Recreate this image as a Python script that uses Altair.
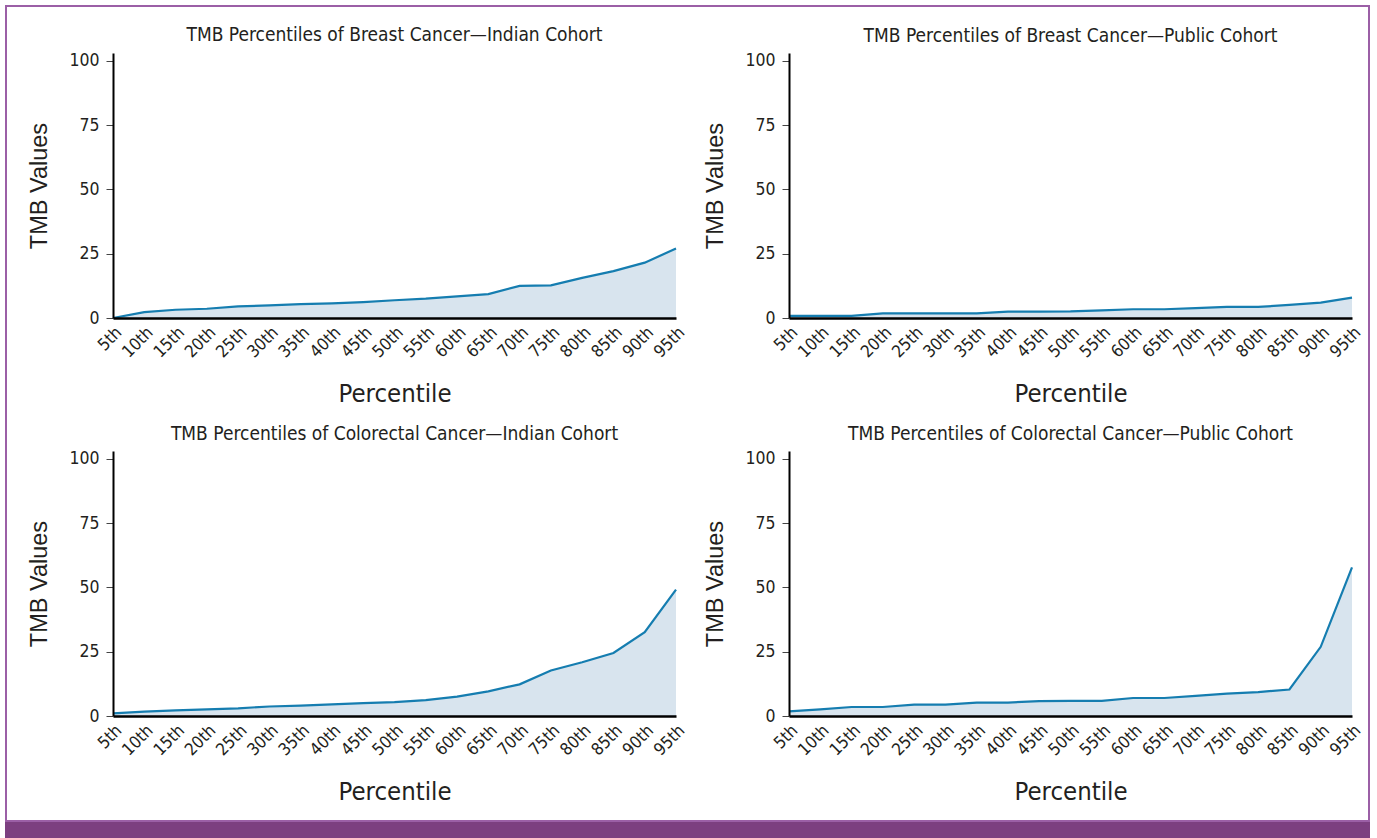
import altair as alt
import pandas as pd

# Percentile categories shared by all four panels
percentiles = ["5th", "10th", "15th", "20th", "25th", "30th", "35th", "40th", "45th", "50th",
               "55th", "60th", "65th", "70th", "75th", "80th", "85th", "90th", "95th"]

# TMB values at each percentile
breast_indian = [0.0, 2.3, 3.2, 3.6, 4.5, 4.9, 5.4, 5.7, 6.2, 6.9,
                 7.5, 8.4, 9.3, 12.5, 12.7, 15.6, 18.2, 21.5, 27.0]
breast_public = [0.8, 0.8, 0.8, 1.8, 1.8, 1.8, 1.8, 2.5, 2.5, 2.6,
                 3.0, 3.4, 3.4, 3.8, 4.3, 4.3, 5.1, 6.0, 7.9]
crc_indian = [1.0, 1.7, 2.2, 2.6, 3.0, 3.7, 4.0, 4.5, 5.0, 5.4,
              6.2, 7.5, 9.6, 12.3, 17.7, 20.9, 24.5, 32.6, 49.1]
crc_public = [1.8, 2.6, 3.5, 3.5, 4.4, 4.4, 5.2, 5.2, 5.8, 5.9,
              5.9, 7.0, 7.0, 7.8, 8.7, 9.3, 10.3, 26.9, 57.8]

panel_titles = [
    "TMB Percentiles of Breast Cancer\u2014Indian Cohort",
    "TMB Percentiles of Breast Cancer\u2014Public Cohort",
    "TMB Percentiles of Colorectal Cancer\u2014Indian Cohort",
    "TMB Percentiles of Colorectal Cancer\u2014Public Cohort",
]
y_ticks = [0, 25, 50, 75, 100]

NARROW = "Liberation Sans Narrow, DejaVu Sans Condensed, Roboto, sans-serif"
REGULAR = "Liberation Sans, Arial, sans-serif"
LINE = "#157db0"
FILL = "#d8e4ee"
INK = "#231f20"
FRAME = "#9b5fa6"
BAND = "#7c3f80"

PW, PH = 563, 265  # plot area of each panel
OX, OY = 113, 53   # where the first plot area sits on the page
PAGE_W, PAGE_H = 1377, 838


def panel(values, title, title_offset):
    df = pd.DataFrame({"Percentile": percentiles, "TMB": values})
    x = alt.X(
        "Percentile:O",
        sort=percentiles,
        scale=alt.Scale(type="point", padding=0),
        axis=alt.Axis(
            ticks=False,
            domainColor="black",
            domainWidth=2.5,
            labelAngle=315,
            labelAlign="right",
            labelBaseline="top",
            labelPadding=6,
            labelFont=NARROW,
            labelFontSize=17,
            labelColor=INK,
            title="Percentile",
            titleFont=NARROW,
            titleFontSize=25.5,
            titleFontWeight="normal",
            titleColor=INK,
            titleBaseline="alphabetic",
            titleY=83,
            zindex=1,
        ),
    )
    y = alt.Y(
        "TMB:Q",
        scale=alt.Scale(domain=[0, 103], nice=False, zero=True),
        axis=alt.Axis(
            values=y_ticks,
            grid=False,
            domainColor="black",
            domainWidth=2,
            tickColor="#444",
            tickSize=7,
            tickWidth=1,
            labelPadding=7,
            labelFont=NARROW,
            labelFontSize=17.5,
            labelColor=INK,
            title="TMB Values",
            titleFont=REGULAR,
            titleFontSize=23.5,
            titleFontWeight="normal",
            titleColor=INK,
            titleBaseline="alphabetic",
            titleX=-67,
            titleY=PH / 2,
            zindex=1,
        ),
    )
    area = alt.Chart(df).mark_area(
        color=FILL, opacity=1, line={"color": LINE, "strokeWidth": 2.2}
    ).encode(x=x, y=y)
    return area.properties(
        width=PW,
        height=PH,
        title=alt.TitleParams(
            text=title,
            font=NARROW,
            fontSize=19,
            fontWeight="normal",
            color=INK,
            anchor="middle",
            frame="group",
            baseline="alphabetic",
            offset=title_offset,
        ),
    )


# Page background, frame and footer band, positioned relative to the first panel
one = pd.DataFrame({"k": [0]})
page = alt.Chart(one).mark_rect(color="white").encode(
    x=alt.value(-OX), x2=alt.value(PAGE_W - OX), y=alt.value(-OY), y2=alt.value(PAGE_H - OY)
)
frame = alt.Chart(one).mark_rect(
    filled=False, stroke=FRAME, strokeWidth=2
).encode(x=alt.value(6 - OX), x2=alt.value(1369 - OX), y=alt.value(6 - OY), y2=alt.value(821 - OY))
band = alt.Chart(one).mark_rect(color=BAND).encode(
    x=alt.value(5 - OX), x2=alt.value(1370 - OX), y=alt.value(821 - OY), y2=alt.value(PAGE_H - OY)
)

# the first panel also carries the page rect, so its title sits relative to that
p1 = alt.layer(page, band, frame, panel(breast_indian, panel_titles[0], -60))
p2 = panel(breast_public, panel_titles[1], -9)
p3 = panel(crc_indian, panel_titles[2], -9)
p4 = panel(crc_public, panel_titles[3], -9)

chart = alt.ConcatChart(
    concat=[p1, p2, p3, p4],
    columns=2,
    spacing={"row": 133, "column": 113},
    bounds="flush",
).properties(
    padding=0,
    background="white",
).configure_view(stroke=None)

chart.save("out.html", embed_options={"renderer": "svg", "actions": False})
